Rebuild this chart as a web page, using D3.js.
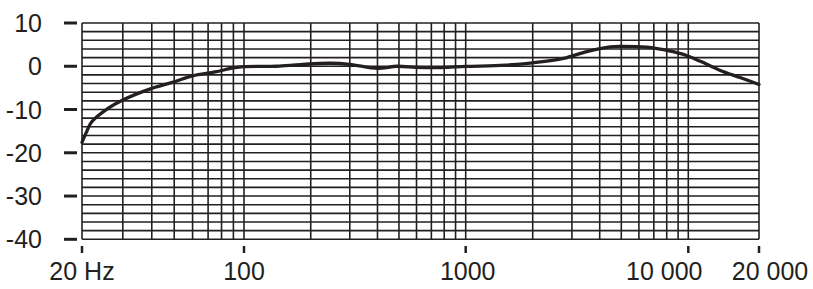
<!DOCTYPE html>
<html>
<head>
<meta charset="utf-8">
<script src="https://cdn.jsdelivr.net/npm/d3@7"></script>
<style>
  body { margin: 0; background: #fff; }
  text { font-family: "Liberation Sans", Arial, sans-serif; fill: #231f20; }
</style>
</head>
<body>
<div id="chart"></div>
<script>
var width = 813;
var height = 289;

// frequency response, Hz / dB
var freq = [20, 21, 22, 26, 30, 40, 50, 60, 75, 90, 100, 140, 180, 245, 300, 400, 490, 600, 770, 1000,
            1500, 2000, 2750, 3500, 4450, 5000, 6500, 8300, 9500, 11200, 13600, 16600, 20000];
var level = [-17.6, -15, -12.9, -9.7, -7.8, -5.1, -3.6, -2.2, -1.3, -0.4, -0.1, 0, 0.4, 0.7, 0.45, -0.5, 0, -0.25, -0.3, -0.05,
             0.25, 0.8, 1.8, 3.4, 4.5, 4.6, 4.4, 3.5, 2.75, 1.2, -0.9, -2.6, -4.2];

var xGrid = [20, 30, 40, 50, 60, 70, 80, 90, 100, 200, 300, 400, 500, 600, 700, 800, 900, 1000,
             2000, 3000, 4000, 5000, 6000, 7000, 8000, 9000, 10000, 20000];
var yGrid = d3.range(-40, 11, 2);

var xTicks = [20, 100, 1000, 10000, 20000];
var xLabels = ["20 Hz", "100", "1000", "10 000", "20 000"];
var xLabelShift = [0, 0, 2, -24, 11];
var yTicks = [10, 0, -10, -20, -30, -40];

var ink = "#231f20";

var svg = d3.select("#chart")
    .append("svg")
    .attr("width", width)
    .attr("height", height);

var x = d3.scaleLog()
    .domain([20, 100, 1000, 10000, 20000])
    .range([82, 244, 465.7, 688.3, 759]);

var y = d3.scaleLinear()
    .domain([-40, 10])
    .range([239.3, 23]);

var grid = svg.append("g");

grid.selectAll(".h")
    .data(yGrid)
    .enter()
    .append("line")
    .attr("x1", x(20))
    .attr("x2", x(20000))
    .attr("y1", function(d){ return y(d); })
    .attr("y2", function(d){ return y(d); })
    .attr("stroke", ink)
    .attr("stroke-width", 1.6);

grid.selectAll(".v")
    .data(xGrid)
    .enter()
    .append("line")
    .attr("x1", function(d){ return x(d); })
    .attr("x2", function(d){ return x(d); })
    .attr("y1", y(10))
    .attr("y2", y(-40))
    .attr("stroke", ink)
    .attr("stroke-width", 1.6);

// y ticks + labels
svg.selectAll(".ytick")
    .data(yTicks)
    .enter()
    .append("line")
    .attr("x1", x(20) - 18)
    .attr("x2", x(20) - 5)
    .attr("y1", function(d){ return y(d); })
    .attr("y2", function(d){ return y(d); })
    .attr("stroke", ink)
    .attr("stroke-width", 3);

svg.selectAll(".ylab")
    .data(yTicks)
    .enter()
    .append("text")
    .attr("x", 42)
    .attr("y", function(d){ return y(d); })
    .attr("dy", "0.36em")
    .attr("text-anchor", "end")
    .attr("font-size", 25)
    .text(function(d){ return d; });

// x ticks + labels
svg.selectAll(".xtick")
    .data(xTicks)
    .enter()
    .append("line")
    .attr("x1", function(d){ return x(d); })
    .attr("x2", function(d){ return x(d); })
    .attr("y1", 246)
    .attr("y2", 253)
    .attr("stroke", ink)
    .attr("stroke-width", 2.5);

svg.selectAll(".xlab")
    .data(xTicks)
    .enter()
    .append("text")
    .attr("x", function(d, i){ return x(d) + xLabelShift[i]; })
    .attr("y", 280)
    .attr("text-anchor", "middle")
    .attr("font-size", 25)
    .text(function(d, i){ return xLabels[i]; });

// response curve
var line = d3.line()
    .x(function(d){ return x(d[0]); })
    .y(function(d){ return y(d[1]); })
    .curve(d3.curveCatmullRom.alpha(0.5));

svg.append("path")
    .datum(d3.zip(freq, level))
    .attr("fill", "none")
    .attr("stroke", ink)
    .attr("stroke-width", 3.3)
    .attr("stroke-linejoin", "round")
    .attr("stroke-linecap", "round")
    .attr("d", line);
</script>
</body>
</html>
